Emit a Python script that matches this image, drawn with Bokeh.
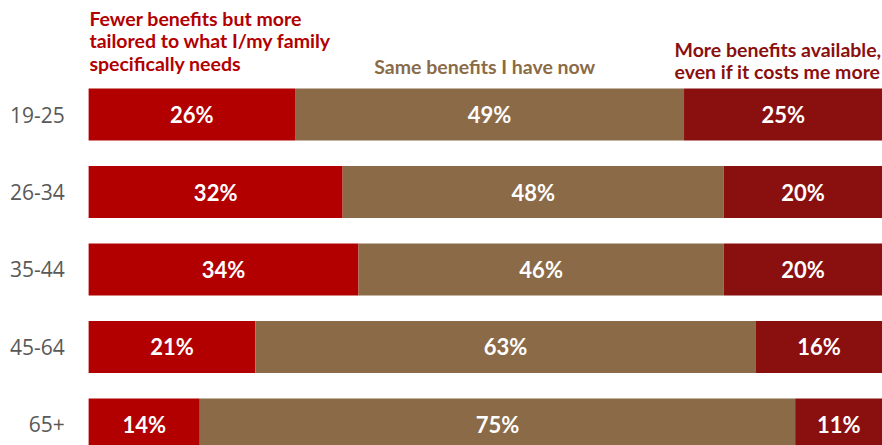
from bokeh.plotting import figure
from bokeh.models import ColumnDataSource, Range1d
from bokeh.core.properties import value
from bokeh.embed import file_html
from bokeh.resources import INLINE

age_groups = ["19-25", "26-34", "35-44", "45-64", "65+"]
fewer = [26, 32, 34, 21, 14]
same = [49, 48, 46, 63, 75]
more = [25, 20, 20, 16, 11]
series_names = [
    "Fewer benefits but more\ntailored to what I/my family\nspecifically needs",
    "Same benefits I have now",
    "More benefits available,\neven if it costs me more",
]
colors = ["#B20000", "#8B6B47", "#8A1010"]

HEAD_FONT = "Lato"

p = figure(width=882, height=445, output_backend="svg", toolbar_location=None,
           x_range=Range1d(-11.1, 100), y_range=Range1d(4.271, -1.471),
           min_border=0)
p.axis.visible = False
p.grid.visible = False
p.outline_line_color = None
p.background_fill_color = "white"

ys = list(range(len(age_groups)))
series = [fewer, same, more]
lefts = [0] * len(ys)
for vals, col in zip(series, colors):
    rights = [l + v for l, v in zip(lefts, vals)]
    src = ColumnDataSource(dict(
        y=ys, left=lefts, right=rights,
        mid=[(l + r) / 2 for l, r in zip(lefts, rights)],
        lab=[f"{v}%" for v in vals]))
    p.hbar(y="y", left="left", right="right", height=0.67, source=src,
           fill_color=col, line_color=None)
    p.text(x="mid", y="y", text="lab", source=src, text_color="white",
           text_font=value(HEAD_FONT), text_font_style="bold",
           text_font_size="22px", text_align="center", text_baseline="middle")
    lefts = rights

# category labels
p.text(x=[-3.0] * len(ys), y=ys, text=age_groups, text_color="#595959",
       text_font=value("Open Sans"), text_font_size="21px",
       text_align="right", text_baseline="middle")

def header(lines, x, y0, color, align):
    dy = 22.5 / 77.5
    p.text(x=[x] * len(lines), y=[y0 + i * dy for i in range(len(lines))],
           text=lines, text_color=color, text_font=value(HEAD_FONT),
           text_font_style="bold", text_font_size="19.5px",
           text_align=align, text_baseline="middle")

header(series_names[0].split("\n"), 0.1, -1.239, colors[0], "left")
header(series_names[1].split("\n"), fewer[0] + same[0] / 2 - 0.6, -0.62, colors[1], "center")
header(series_names[2].split("\n"), 73.8, -0.839, colors[2], "left")

open("out.html", "w").write(file_html(p, INLINE))
